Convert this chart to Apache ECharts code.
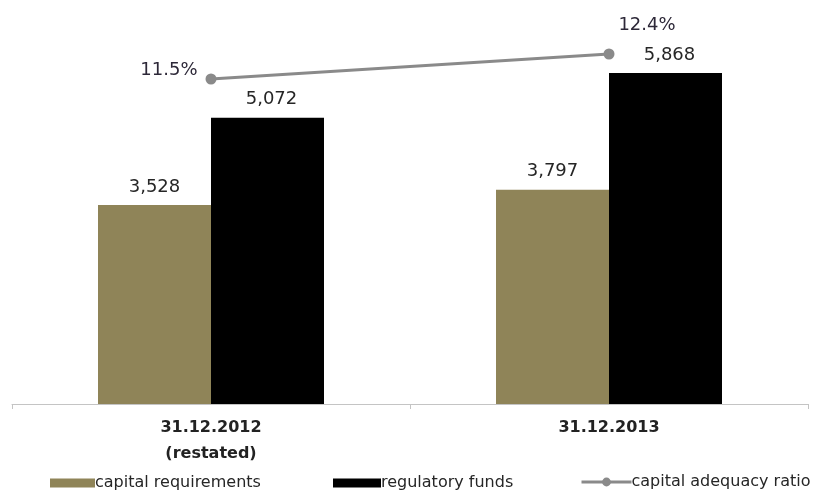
<!DOCTYPE html>
<html>
<head>
<meta charset="utf-8">
<script src="https://cdn.jsdelivr.net/npm/echarts@6/dist/echarts.min.js"></script>
<style>
  html, body { margin: 0; padding: 0; background: #fff; }
  #chart { width: 817px; height: 491px; }
</style>
</head>
<body>
<div id="chart"></div>
<script>
// Period labels on the category axis
var categories = ['31.12.2012\n(restated)', '31.12.2013'];
// Amounts per period
var capitalRequirements = [3528, 3797];
var regulatoryFunds = [5072, 5868];
// Ratio per period, in percent
var capitalAdequacyRatio = [11.5, 12.4];

var FONT = '"DejaVu Sans", sans-serif';
var TEXT = '#262626';

var chart = echarts.init(document.getElementById('chart'), null, { renderer: 'canvas' });

function fmtThousands(v) {
  return v.toLocaleString('en-US');
}

// One legend block per series so each entry sits at its own spot
function legendAt(left, name, w, h, extra) {
  return Object.assign({
    left: left,
    top: 475,
    itemWidth: w,
    itemHeight: h,
    padding: 0,
    textStyle: { fontFamily: FONT, fontSize: 16, color: TEXT, padding: [0, 0, 0, -5] },
    data: [name]
  }, extra || {});
}

var barLabel = {
  show: true, position: 'top', distance: 9,
  fontFamily: FONT, fontSize: 18, color: TEXT,
  formatter: function (p) { return fmtThousands(p.value); }
};

chart.setOption({
  animation: false,
  backgroundColor: '#ffffff',
  grid: { left: 12, right: 9, top: 9, bottom: 87, containLabel: false },
  legend: [
    legendAt(50, 'capital requirements', 45, 9, { icon: 'rect' }),
    legendAt(333, 'regulatory funds', 48, 9, { icon: 'rect' }),
    legendAt(580, 'capital adequacy ratio', 50, 11, {
      top: 474,
      lineStyle: { width: 3, color: '#8a8a8a' },
      itemStyle: { color: '#8a8a8a' }
    })
  ],
  xAxis: {
    type: 'category',
    data: categories,
    axisLine: { lineStyle: { color: '#c4c4c4', width: 1 } },
    axisTick: { show: true, length: 5, lineStyle: { color: '#c4c4c4' } },
    axisLabel: {
      fontFamily: FONT, fontSize: 16, fontWeight: 'bold', color: '#222222',
      margin: 11, lineHeight: 26
    }
  },
  yAxis: [
    { type: 'value', min: 0, max: 7000, show: false, splitLine: { show: false } },
    { type: 'value', min: -0.2, max: 14.02, show: false, splitLine: { show: false } }
  ],
  series: [
    {
      name: 'capital requirements',
      type: 'bar',
      data: capitalRequirements,
      barWidth: 113,
      barGap: '0%',
      itemStyle: { color: '#8f8458' },
      label: barLabel
    },
    {
      name: 'regulatory funds',
      type: 'bar',
      data: regulatoryFunds,
      barWidth: 113,
      barGap: '0%',
      itemStyle: { color: '#000000' },
      label: Object.assign({}, barLabel, { offset: [4, 0] })
    },
    {
      name: 'capital adequacy ratio',
      type: 'line',
      yAxisIndex: 1,
      data: [
        { value: capitalAdequacyRatio[0], label: { position: 'left', distance: 8, offset: [0, -9] } },
        { value: capitalAdequacyRatio[1], label: { position: 'top', distance: 14, offset: [38, 0] } }
      ],
      symbol: 'circle',
      symbolSize: 11,
      lineStyle: { color: '#8a8a8a', width: 3 },
      itemStyle: { color: '#8a8a8a' },
      label: {
        show: true,
        fontFamily: FONT, fontSize: 18, color: '#2d2838',
        formatter: function (p) { return p.value.toFixed(1) + '%'; }
      },
      z: 5
    }
  ]
});
</script>
</body>
</html>
